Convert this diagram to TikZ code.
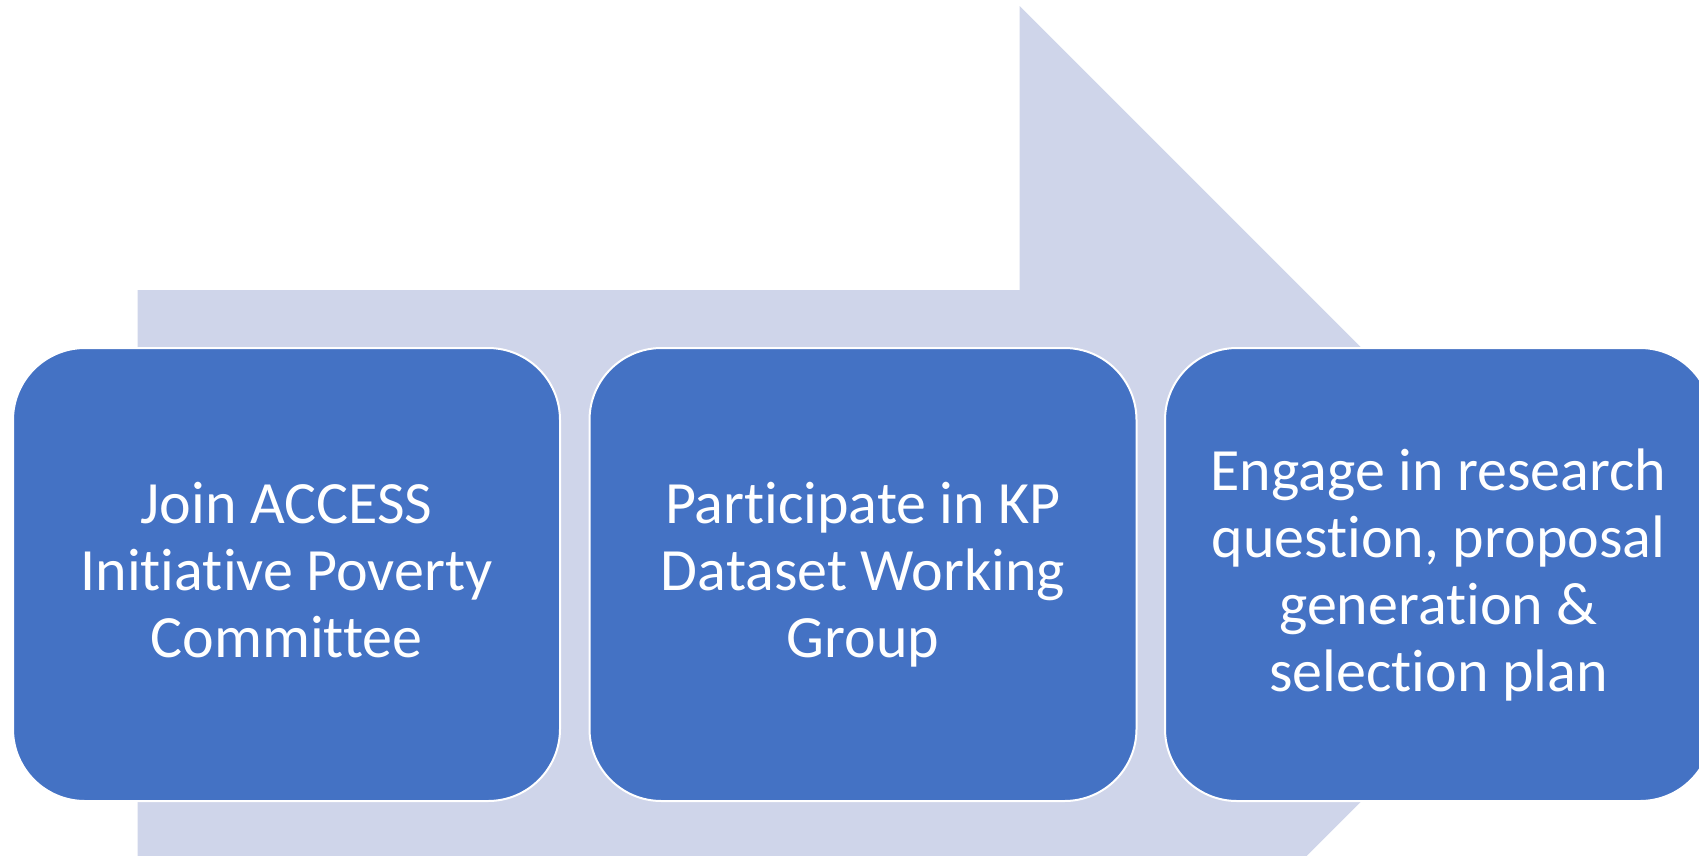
\documentclass[tikz,border=0pt]{standalone}
\usepackage{fontspec}
\setmainfont{Carlito}[Ligatures={NoCommon,NoRequired,NoContextual,NoRare}]
\definecolor{arrowfill}{HTML}{CFD5EA}
\definecolor{boxfill}{HTML}{4472C4}
\tikzset{
  stepbox/.style={draw=white, line width=2pt, fill=boxfill, rounded corners=72pt,
    minimum width=547pt, minimum height=453pt, inner sep=0pt, align=center,
    text=white, font=\fontsize{60pt}{67pt}\selectfont},
  bigarrow/.style={fill=arrowfill, draw=none}
}
\newcommand{\topstrut}{\rule{0pt}{47pt}}
\newcommand{\botstrut}{\rule[-15pt]{0pt}{15pt}}
\begin{document}
\begin{tikzpicture}[x=1pt,y=-1pt]
\useasboundingbox (0,0) rectangle (1699,855);
\clip (0,0) rectangle (1699,855);
\fill[white] (0,0) rectangle (1699,855);
% big background arrow
\path[bigarrow] (137.5,290) -- (1019.5,290) -- (1019.5,6) -- (1588,574.5)
  -- (1019.5,1143) -- (1019.5,859) -- (137.5,859) -- cycle;
% steps
\node[stepbox] (s1) at (286.5,574.5) {\topstrut Join ACCESS\\Initiative Poverty\\Committee\botstrut};
\node[stepbox] (s2) at (863,574.5) {\topstrut Participate in KP\\Dataset Working\\Group\botstrut};
\node[stepbox] (s3) at (1438.5,574.5) {\topstrut Engage in research\\question, proposal\\generation \&\\selection plan\botstrut};
\end{tikzpicture}
\end{document}
